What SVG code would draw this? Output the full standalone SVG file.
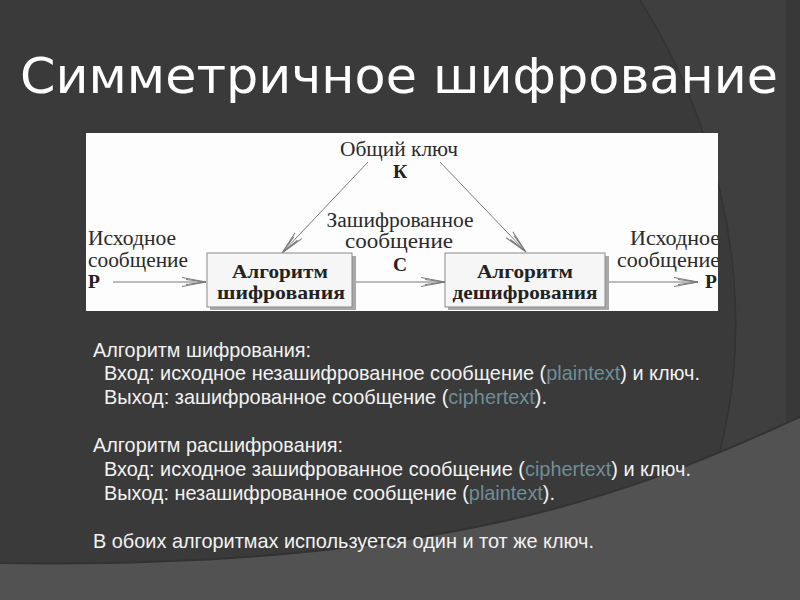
<svg xmlns="http://www.w3.org/2000/svg" width="800" height="600" viewBox="0 0 800 600">
<defs>
<style>
.title{font-family:"DejaVu Sans","Open Sans",sans-serif;font-size:49px;fill:#ffffff}
.body{font-family:"Liberation Sans",Arial,sans-serif;font-size:21px;fill:#f2f2f2}
.hl{fill:#6f8e96}
.ser{font-family:"Liberation Serif","Times New Roman",serif;font-size:20px;fill:#2a2a2a}
.serb{font-family:"Liberation Serif","Times New Roman",serif;font-size:19.5px;font-weight:bold;fill:#222}
.box{fill:#f6f6f6;stroke:#8a8a8a;stroke-width:1}
.shadow{fill:#a8a8a8}
.conn{stroke:#7a7a7a;stroke-width:1;fill:none}
</style>
<marker id="arr" markerUnits="userSpaceOnUse" markerWidth="26" markerHeight="12" refX="24" refY="6" orient="auto">
<path d="M0,1.5 L24,6 L0,10.5 M4,3.5 L24,6 L4,8.5" fill="none" stroke="#7a7a7a" stroke-width="1"/>
</marker>
<clipPath id="panelclip"><rect x="86" y="133" width="632" height="178"/></clipPath>
</defs>
<g id="background">
<rect x="0" y="0" width="800" height="600" fill="#3a3a3a"/>
<path d="M640,0 C735,150 790,390 655,600 L800,600 L800,0 Z" fill="#3f3f3f"/>
<path d="M640,0 C735,150 790,390 655,600" fill="none" stroke="#333" stroke-width="1.5"/>
<rect x="786" y="0" width="14" height="600" fill="#383838"/>
<path d="M0,563 C450,570 640,490 800,417 L800,600 L0,600 Z" fill="#525252"/>
<path d="M0,563 C450,570 640,490 800,417" fill="none" stroke="#333" stroke-width="2"/>
</g>
<text class="title" x="20" y="93" textLength="758" lengthAdjust="spacingAndGlyphs">Симметричное шифрование</text>
<rect id="panel" x="86" y="133" width="632" height="178" fill="#fdfdfd"/>
<g id="connectors">
<line class="conn" x1="113" y1="282" x2="206" y2="282" marker-end="url(#arr)"/>
<line class="conn" x1="353" y1="282" x2="445" y2="282" marker-end="url(#arr)"/>
<line class="conn" x1="606" y1="282" x2="698" y2="282" marker-end="url(#arr)"/>
<line class="conn" x1="368" y1="162" x2="282" y2="253" marker-end="url(#arr)"/>
<line class="conn" x1="440" y1="162" x2="526" y2="252" marker-end="url(#arr)"/>
</g>
<g id="key">
<text class="ser" x="399" y="156" text-anchor="middle" textLength="118" lengthAdjust="spacingAndGlyphs">Общий ключ</text>
<text class="serb" x="400" y="178" text-anchor="middle" font-size="22">К</text>
</g>
<g id="cipher">
<text class="ser" x="400" y="227" text-anchor="middle" textLength="147" lengthAdjust="spacingAndGlyphs">Зашифрованное</text>
<text class="ser" x="399" y="248" text-anchor="middle" textLength="108" lengthAdjust="spacingAndGlyphs">сообщение</text>
<text class="serb" x="400" y="271" text-anchor="middle" font-size="22">С</text>
</g>
<g id="input">
<text class="ser" x="88" y="245" textLength="88" lengthAdjust="spacingAndGlyphs">Исходное</text>
<text class="ser" x="88" y="267" textLength="100" lengthAdjust="spacingAndGlyphs">сообщение</text>
<text class="serb" x="88" y="288" font-size="21">P</text>
</g>
<g id="output" clip-path="url(#panelclip)">
<text class="ser" x="630" y="245" textLength="90" lengthAdjust="spacingAndGlyphs">Исходное</text>
<text class="ser" x="617" y="267" textLength="103" lengthAdjust="spacingAndGlyphs">сообщение</text>
<text class="serb" x="705" y="288" font-size="21">P</text>
</g>
<g id="encrypt">
<rect class="shadow" x="210" y="256" width="146" height="54"/>
<rect class="box" x="207" y="253" width="145" height="54"/>
<text class="serb" x="280" y="278" text-anchor="middle" textLength="96" lengthAdjust="spacingAndGlyphs">Алгоритм</text>
<text class="serb" x="281" y="299" text-anchor="middle" textLength="128" lengthAdjust="spacingAndGlyphs">шифрования</text>
</g>
<g id="decrypt">
<rect class="shadow" x="448" y="256" width="161" height="54"/>
<rect class="box" x="445" y="253" width="160" height="54"/>
<text class="serb" x="525" y="278" text-anchor="middle" textLength="96" lengthAdjust="spacingAndGlyphs">Алгоритм</text>
<text class="serb" x="525" y="299" text-anchor="middle" textLength="145" lengthAdjust="spacingAndGlyphs">дешифрования</text>
</g>
<g id="description">
<text class="body" x="93" y="357" textLength="218" lengthAdjust="spacingAndGlyphs">Алгоритм шифрования:</text>
<text class="body" x="104" y="380" textLength="596" lengthAdjust="spacingAndGlyphs">Вход: исходное незашифрованное сообщение (<tspan class="hl">plaintext</tspan>) и ключ.</text>
<text class="body" x="104" y="404" textLength="443" lengthAdjust="spacingAndGlyphs">Выход: зашифрованное сообщение (<tspan class="hl">ciphertext</tspan>).</text>
<text class="body" x="93" y="452" textLength="250" lengthAdjust="spacingAndGlyphs">Алгоритм расшифрования:</text>
<text class="body" x="104" y="476" textLength="587" lengthAdjust="spacingAndGlyphs">Вход: исходное зашифрованное сообщение (<tspan class="hl">ciphertext</tspan>) и ключ.</text>
<text class="body" x="104" y="500" textLength="451" lengthAdjust="spacingAndGlyphs">Выход: незашифрованное сообщение (<tspan class="hl">plaintext</tspan>).</text>
<text class="body" x="93" y="548" textLength="501" lengthAdjust="spacingAndGlyphs">В обоих алгоритмах используется один и тот же ключ.</text>
</g>
</svg>
